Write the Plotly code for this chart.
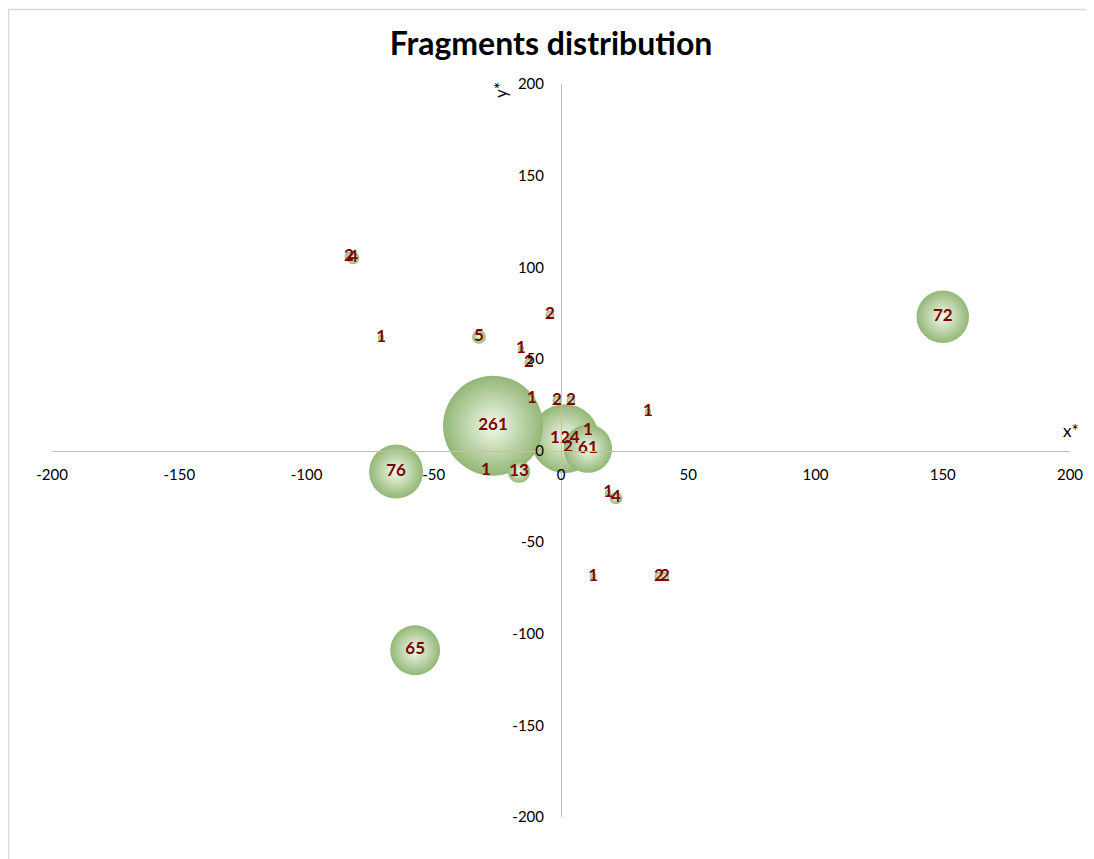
import plotly.graph_objects as go

# Fragment positions (x*, y*) and fragment counts (bubble size / label)
x_vals = [-29.5, 10.6, 2.7, 1.5, -26.7, 10.6, 150.0, -64.8, -57.3, -16.5,
          -32.2, -70.7, -83.3, -81.7, -4.3, -15.7, -12.6, -11.4, -1.6, 3.9,
          34.2, 18.5, 21.6, 12.6, 38.5, 40.8]
y_vals = [-11.0, 11.0, 1.6, 6.5, 13.5, 1.0, 73.0, -11.5, -109.0, -11.5,
          62.0, 61.6, 106.0, 105.0, 74.0, 55.6, 48.0, 28.4, 27.3, 27.3,
          21.3, -23.0, -26.0, -68.7, -68.7, -68.7]
counts = [1, 1, 2, 124, 261, 61, 72, 76, 65, 13,
          5, 1, 2, 4, 2, 1, 2, 1, 2, 2,
          1, 1, 4, 1, 2, 2]

x_ticks = [-200, -150, -100, -50, 0, 50, 100, 150, 200]
y_ticks = [-200, -150, -100, -50, 0, 50, 100, 150, 200]

FONT = "Lato"

fig = go.Figure()
fig.add_trace(go.Scatter(
    x=x_vals, y=y_vals,
    mode="markers+text",
    text=[str(c) for c in counts],
    textposition="middle center",
    textfont=dict(family=FONT, size=17, color="#7f0000", weight="bold"),
    marker=dict(
        size=counts,
        sizemode="area",
        sizeref=2 * 261 / 100.0 ** 2,
        sizemin=0,
        color="#93b777",
        gradient=dict(type="radial", color="#f3faeb"),
        line=dict(width=0),
        opacity=1,
    ),
    hoverinfo="x+y+text",
    showlegend=False,
))

axis_common = dict(
    range=[-200, 200],
    tickmode="array",
    showgrid=False,
    zeroline=False,
    showline=True,
    linecolor="#bfbfbf",
    linewidth=1,
    ticks="outside",
    tickcolor="rgba(0,0,0,0)",
    tickfont=dict(family=FONT, size=15, color="#000000"),
    anchor="free",
    position=0.5,
)

# figure geometry (page body adds an 8px offset)
W, H = 1086, 851
L, R, T, B = 44, 24, 76, 42
pw, ph = W - L - R, H - T - B
OFF = 8


def px_to_paper(px, py):
    # px, py are screenshot pixel positions
    return (px - OFF - L) / pw, (H - B - (py - OFF)) / ph


ax_x, ax_y = px_to_paper(1071, 430)
ay_x, ay_y = px_to_paper(500, 90)

fig.update_layout(
    width=W, height=H,
    paper_bgcolor="white", plot_bgcolor="white",
    margin=dict(l=L, r=R, t=T, b=B, autoexpand=False),
    title=dict(text="<b>Fragments distribution</b>", x=0.5, xanchor="center",
               y=1 - (44 - OFF) / H, yanchor="middle",
               font=dict(family=FONT, size=32, color="#000000")),
    xaxis=dict(**axis_common, tickvals=x_ticks,
               ticktext=[str(v) for v in x_ticks], ticklen=10),
    yaxis=dict(**axis_common, tickvals=y_ticks,
               ticktext=[str(v) for v in y_ticks], ticklen=14),
    annotations=[
        dict(text="x*", x=ax_x, y=ax_y, xref="paper", yref="paper",
             xanchor="center", yanchor="middle",
             showarrow=False, font=dict(family=FONT, size=17, color="#000")),
        dict(text="y*", x=ay_x, y=ay_y, xref="paper", yref="paper",
             xanchor="center", yanchor="middle",
             showarrow=False, font=dict(family=FONT, size=17, color="#000"),
             textangle=-90),
    ],
    font=dict(family=FONT),
)

# chart border (left/top edges visible)
bx0, by0 = px_to_paper(8.5, 9.5)
bx1, by1 = px_to_paper(1100, 870)
fig.add_shape(type="rect", xref="paper", yref="paper",
              x0=bx0, y0=by1, x1=bx1, y1=by0,
              line=dict(color="#d9d9d9", width=1.5), layer="below")

fig.write_html("out.html")
